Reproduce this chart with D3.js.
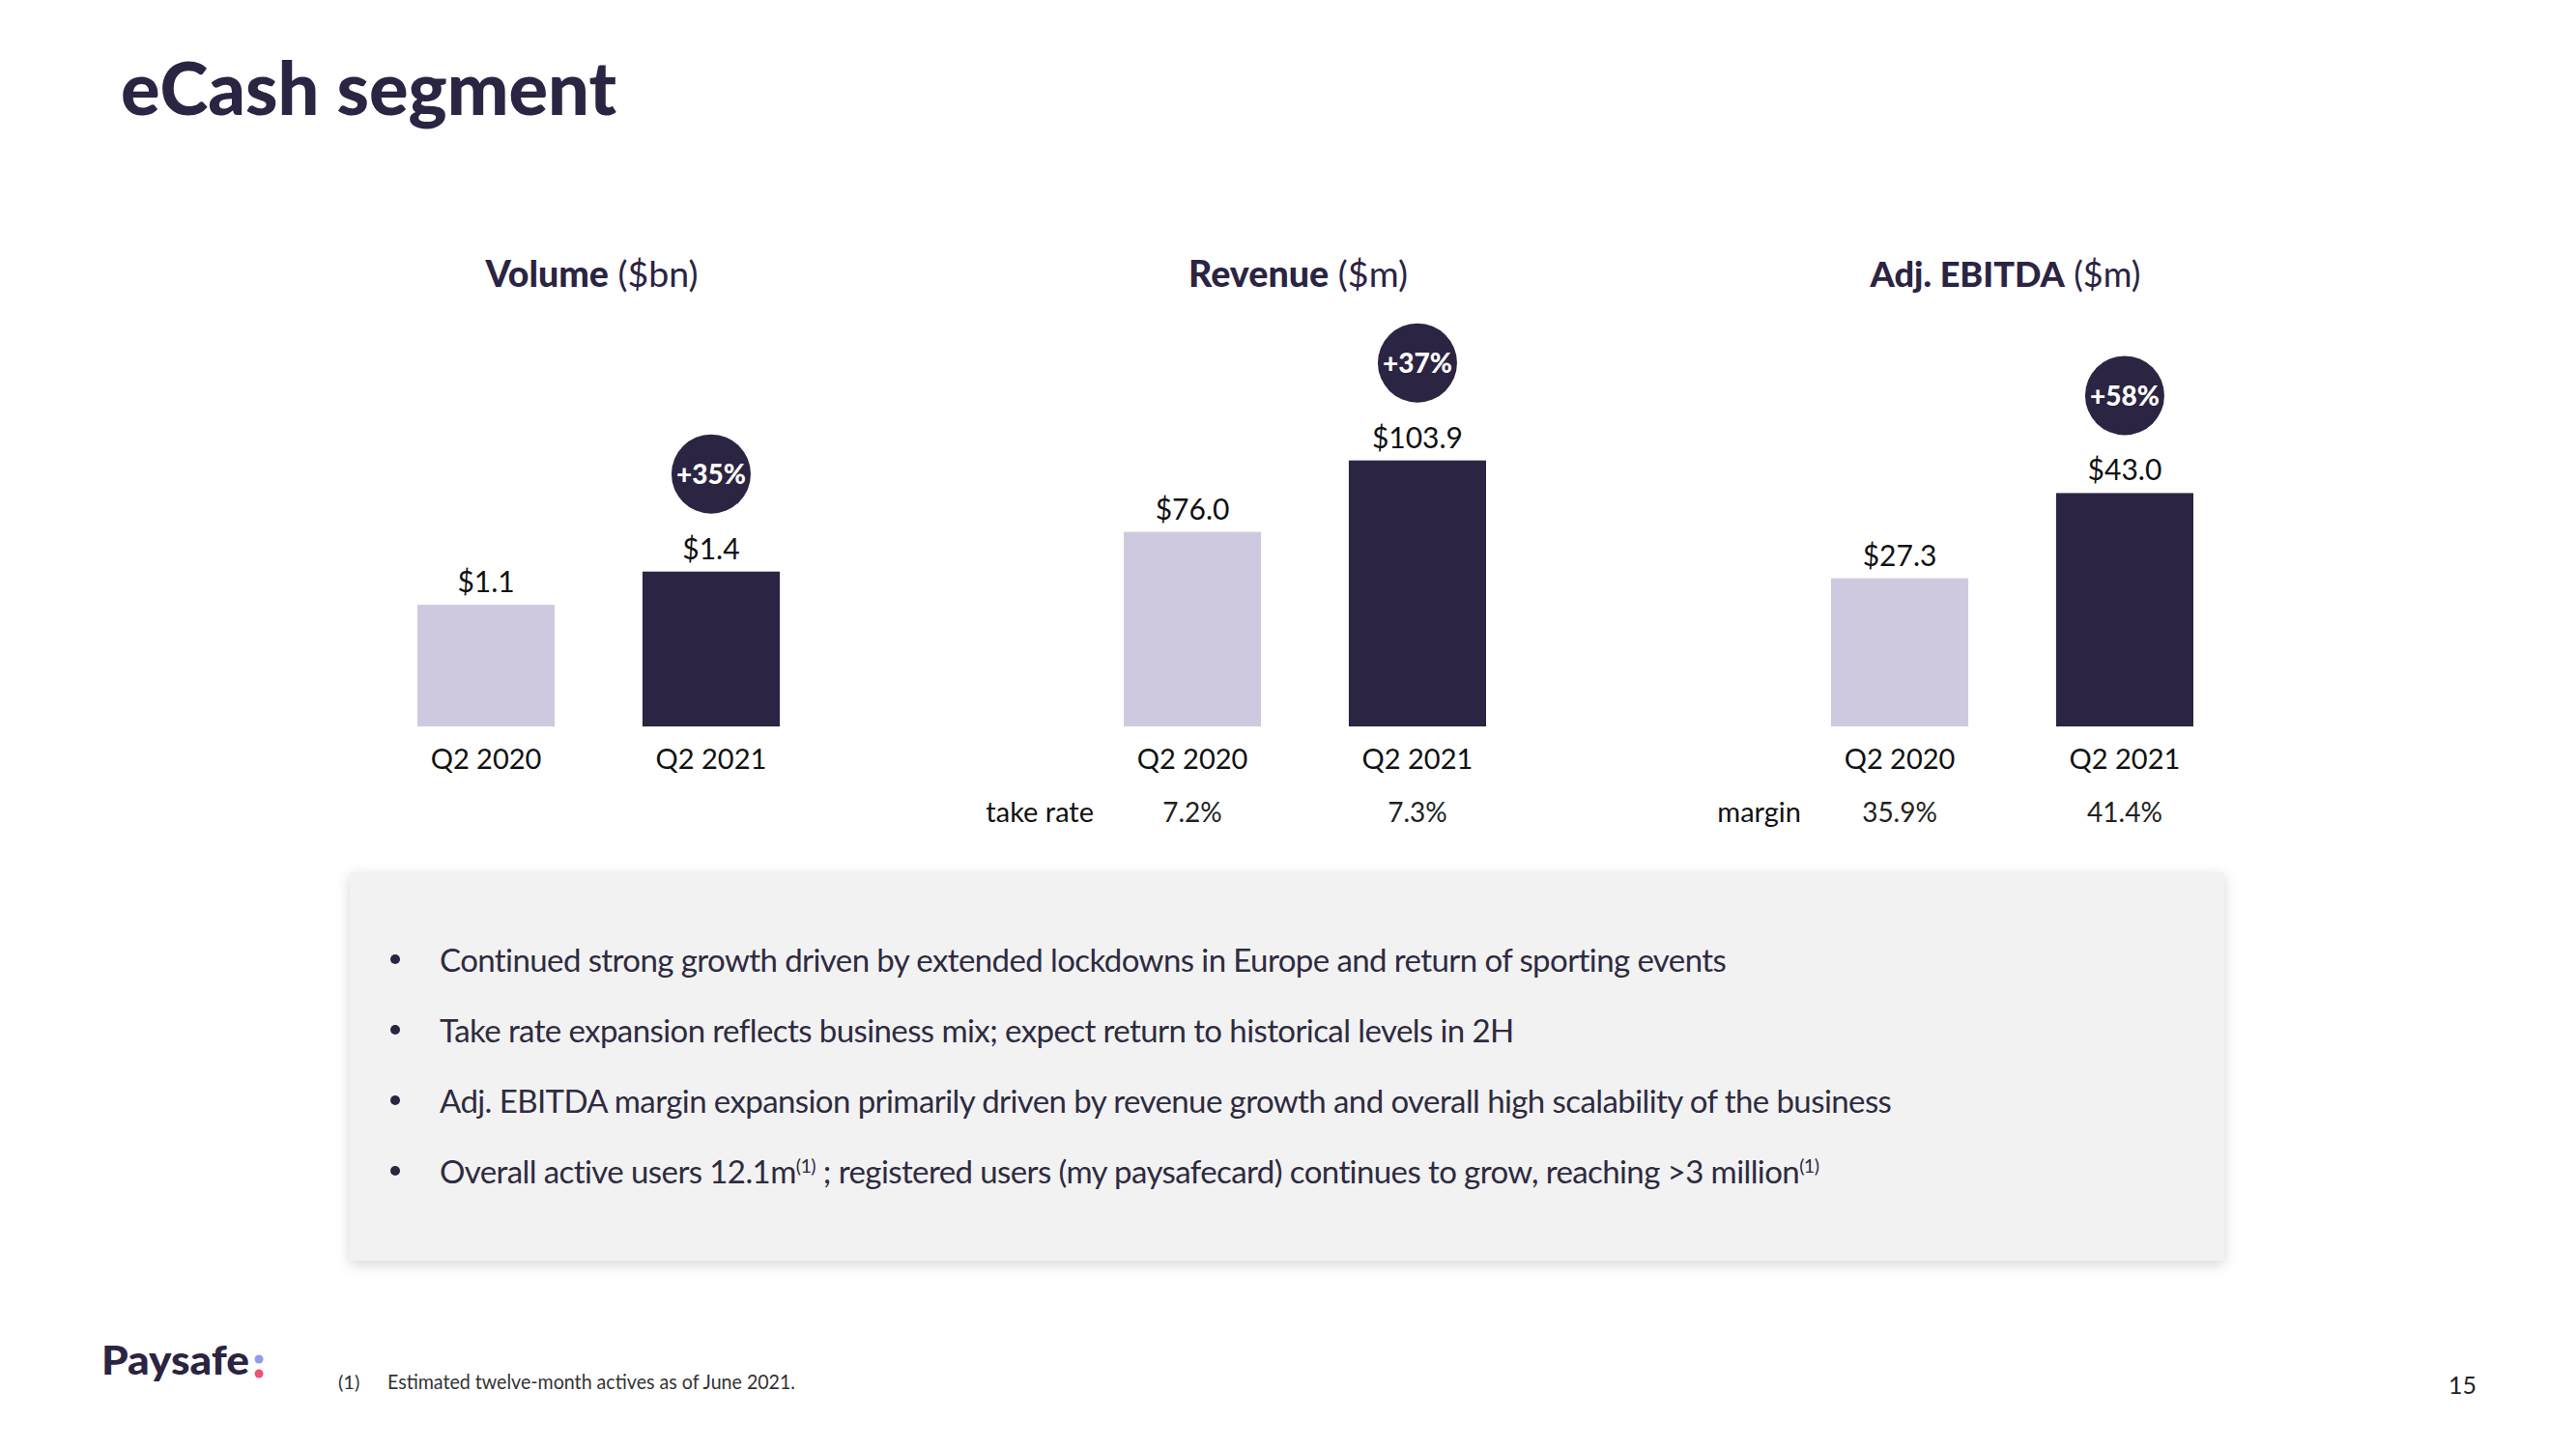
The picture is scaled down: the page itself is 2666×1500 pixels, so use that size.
<!DOCTYPE html>
<html><head><meta charset="utf-8">
<script src="https://cdn.jsdelivr.net/npm/d3@7"></script>
<style>html,body{margin:0;padding:0;background:#fff;} svg{display:block;}</style>
</head><body>
<svg id="c" width="2666" height="1500"></svg>
<script>
// ---------- data ----------
const pageTitle = "eCash segment";
const categories = ["Q2 2020", "Q2 2021"];
const panelTitles = ["Volume", "Revenue", "Adj. EBITDA"];
const panelUnits = [" ($bn)", " ($m)", " ($m)"];
const volume = [1.1, 1.4];
const revenue = [76.0, 103.9];
const ebitda = [27.3, 43.0];
const growth = ["+35%", "+37%", "+58%"];
const rowLabels = [null, "take rate", "margin"];
const takeRate = ["7.2%", "7.3%"];
const margin = ["35.9%", "41.4%"];
const bullets = [
  [{t: "Continued strong growth driven by extended lockdowns in Europe and return of sporting events"}],
  [{t: "Take rate expansion reflects business mix; expect return to historical levels in 2H"}],
  [{t: "Adj. EBITDA margin expansion primarily driven by revenue growth and overall high scalability of the business"}],
  [{t: "Overall active users 12.1m"}, {t: "(1)", sup: true}, {t: " ; registered users (my paysafecard) continues to grow, reaching >3 million"}, {t: "(1)", sup: true}]
];
const footnoteMark = "(1)";
const footnote = "Estimated twelve-month actives as of June 2021.";
const pageNumber = "15";
const logoText = "Paysafe";

// ---------- style / layout ----------
const DARK = "#2b2442", LIGHT = "#cfc9e0", INK = "#111111", BODY = "#2e2b40";
const FONT = "Lato, 'Open Sans', sans-serif";
const svg = d3.select("#c");
svg.attr("font-family", FONT);

function fit(sel, w) {
  const fs = parseFloat(sel.attr("font-size"));
  const L = sel.node().getComputedTextLength();
  sel.attr("font-size", fs * w / L);
  return fs * w / L;
}

// shadow filter
const defs = svg.append("defs");
const f = defs.append("filter").attr("id", "sh").attr("x", "-5%").attr("y", "-10%").attr("width", "110%").attr("height", "125%");
f.append("feDropShadow").attr("dx", 0).attr("dy", 4).attr("stdDeviation", 7).attr("flood-color", "#000").attr("flood-opacity", 0.16);

// title
svg.append("text").attr("x", 125).attr("y", 119).attr("font-size", 76).attr("font-weight", 900)
  .attr("fill", DARK).attr("textLength", 513).attr("lengthAdjust", "spacingAndGlyphs").text(pageTitle);

// ---------- panels ----------
const panels = [
  {vals: volume, fmt: d3.format("$.1f"), yMax: 2.62, row: null},
  {vals: revenue, fmt: d3.format("$.1f"), yMax: 113.2, row: takeRate},
  {vals: ebitda, fmt: d3.format("$.1f"), yMax: 53.4, row: margin}
];
const panelX0 = [432, 1163, 1895], panelW = 375, baseY = 752, topY = 452;
const titleW = [220, 227, 280];

panels.forEach((p, i) => {
  const g = svg.append("g");
  const x = d3.scaleBand().domain(categories).range([panelX0[i], panelX0[i] + panelW]).paddingInner(0.39).paddingOuter(0);
  const y = d3.scaleLinear().domain([0, p.yMax]).range([baseY, topY]);
  const data = categories.map((c, j) => ({c, v: p.vals[j], j}));

  // title
  const t = g.append("text").attr("x", panelX0[i] + panelW / 2 - 7).attr("y", 297).attr("text-anchor", "middle")
    .attr("font-size", 38).attr("fill", DARK);
  t.append("tspan").attr("font-weight", 900).text(panelTitles[i]);
  t.append("tspan").attr("font-weight", 400).text(panelUnits[i]);
  fit(t, titleW[i]);

  g.selectAll("rect.bar").data(data).join("rect").attr("class", "bar")
    .attr("x", d => x(d.c)).attr("width", x.bandwidth())
    .attr("y", d => y(d.v)).attr("height", d => baseY - y(d.v))
    .attr("fill", d => d.j === 0 ? LIGHT : DARK);

  g.selectAll("text.val").data(data).join("text").attr("class", "val")
    .attr("x", d => x(d.c) + x.bandwidth() / 2).attr("y", d => y(d.v) - 13)
    .attr("text-anchor", "middle").attr("font-size", 30).attr("fill", INK)
    .text(d => p.fmt(d.v));

  // category axis
  const ax = g.append("g").attr("transform", `translate(0,${baseY})`)
    .call(d3.axisBottom(x).tickSize(0).tickPadding(24));
  ax.select(".domain").remove();
  ax.selectAll("text").attr("font-size", 29).attr("font-family", FONT).attr("fill", INK)
    .attr("dy", null).attr("y", 44);

  // growth bubble
  const last = data[data.length - 1];
  const bx = x(last.c) + x.bandwidth() / 2, by = y(last.v) - 101;
  g.append("circle").attr("cx", bx).attr("cy", by).attr("r", 41).attr("fill", DARK);
  g.append("text").attr("x", bx).attr("y", by).attr("dy", "0.36em").attr("text-anchor", "middle")
    .attr("font-size", 28).attr("font-weight", 900).attr("fill", "#fff").text(growth[i]);

  // bottom row
  if (p.row) {
    g.append("text").attr("x", x(categories[0]) - 31).attr("y", 851).attr("text-anchor", "end")
      .attr("font-size", 29).attr("fill", INK).text(rowLabels[i]);
    g.selectAll("text.row").data(data).join("text").attr("class", "row")
      .attr("x", d => x(d.c) + x.bandwidth() / 2).attr("y", 851).attr("text-anchor", "middle")
      .attr("font-size", 28).attr("fill", "#222").text(d => p.row[d.j]);
  }
});

// ---------- commentary box ----------
svg.append("rect").attr("x", 362).attr("y", 903).attr("width", 1940).attr("height", 402)
  .attr("fill", "#f2f2f2").attr("filter", "url(#sh)");

const lineY = d3.scaleLinear().domain([0, 3]).range([1006, 1225]);
const targetW = [1328, 1111, 1502, 1435];
const btexts = [];
bullets.forEach((parts, i) => {
  svg.append("circle").attr("cx", 409).attr("cy", lineY(i) - 13).attr("r", 5).attr("fill", DARK);
  const t = svg.append("text").attr("x", 455).attr("y", lineY(i)).attr("font-size", 33).attr("fill", BODY);
  parts.forEach(pt => {
    const ts = t.append("tspan").text(pt.t);
    if (pt.sup) ts.attr("font-size", "0.6em").attr("dy", "-0.55em");
    else if (t.selectAll("tspan").size() > 1) ts.attr("dy", "0.33em");
  });
  btexts.push(t);
});
const spacing = d3.mean(btexts.map((t, i) => {
  const n = t.text().length;
  return (targetW[i] - t.node().getComputedTextLength()) / n;
}));
btexts.forEach(t => t.attr("letter-spacing", spacing));

// ---------- footer ----------
svg.append("text").attr("x", 105).attr("y", 1423).attr("font-size", 41).attr("font-weight", 900)
  .attr("fill", DARK).attr("textLength", 153).attr("lengthAdjust", "spacingAndGlyphs").text(logoText);
svg.append("circle").attr("cx", 268).attr("cy", 1407).attr("r", 4.5).attr("fill", "#8f9de9");
svg.append("circle").attr("cx", 268).attr("cy", 1422).attr("r", 4.5).attr("fill", "#ef5273");

svg.append("text").attr("x", 350).attr("y", 1438).attr("font-size", 20).attr("fill", "#333").text(footnoteMark);
svg.append("text").attr("x", 401).attr("y", 1438).attr("font-size", 21).attr("fill", "#333")
  .attr("textLength", 422).attr("lengthAdjust", "spacingAndGlyphs").text(footnote);

svg.append("text").attr("x", 2563).attr("y", 1443).attr("text-anchor", "end").attr("font-size", 25)
  .attr("fill", "#222").text(pageNumber);
</script>
</body></html>
